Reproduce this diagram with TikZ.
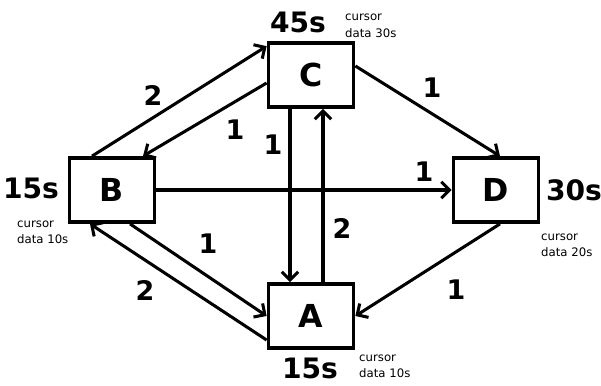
\documentclass[tikz,border=0pt]{standalone}
\usepackage{fontspec}
\setmainfont{DejaVu Sans}
\usetikzlibrary{arrows.meta}

\begin{document}
\begin{tikzpicture}[x=0.03cm, y=-0.03cm,
  box/.style={draw, line width=3.2pt, minimum width=2.55cm, minimum height=1.92cm, inner sep=0pt, font=\fontsize{27}{32}\selectfont\bfseries},
  link/.style={line width=2.6pt, -{Straight Barb[length=7pt,width=14pt]}},
  wt/.style={inner sep=0pt, font=\fontsize{23}{27}\selectfont\bfseries},
  tm/.style={inner sep=0pt, font=\fontsize{24}{28}\selectfont\bfseries},
  note/.style={anchor=west, align=left, inner sep=0pt, font=\fontsize{10}{14}\selectfont}]
  \useasboundingbox (0,0) rectangle (601,385);
  \node [box] (c) at (311,75) {C};
  \node [box] (b) at (112,190) {B};
  \node [box] (d) at (496,190) {D};
  \node [box] (a) at (311,316) {A};
  \node [tm] (tc) at (298,22) {45s};
  \node [tm] (tb) at (31,188) {15s};
  \node [tm] (td) at (574,190) {30s};
  \node [tm] (ta) at (310,368) {15s};
  \node [note] (nc) at (345,26) {cursor\\data 30s};
  \node [note] (nb) at (17,232) {cursor\\data 10s};
  \node [note] (nd) at (541,245) {cursor\\data 20s};
  \node [note] (na) at (359,366) {cursor\\data 10s};
  \draw [link] ([xshift=-0.6cm]b.north) -- (c.147);
  \draw [link] ([yshift=-0.24cm]c.west) -- ([xshift=0.93cm]b.north);
  \draw [link] ([xshift=-0.63cm]c.south) -- ([xshift=-0.63cm]a.north);
  \draw [link] ([xshift=0.36cm]a.north) -- ([xshift=0.36cm]c.south);
  \draw [link] (b.east) -- (d.west);
  \draw [link] ([yshift=0.27cm]c.east) -- ([xshift=0.12cm]d.north);
  \draw [link] ([xshift=0.12cm]d.south) -- (a.east);
  \draw [link] ([xshift=0.54cm]b.south) -- (a.west);
  \draw [link] ([yshift=-0.72cm]a.west) -- ([xshift=-0.66cm]b.south);
  \node [wt] (w1) at (153,95) {2};
  \node [wt] (w2) at (235,130) {1};
  \node [wt] (w3) at (273,145) {1};
  \node [wt] (w4) at (342,228) {2};
  \node [wt] (w5) at (424,172) {1};
  \node [wt] (w6) at (432,88) {1};
  \node [wt] (w7) at (456,290) {1};
  \node [wt] (w8) at (208,244) {1};
  \node [wt] (w9) at (145,290) {2};
\end{tikzpicture}
\end{document}
